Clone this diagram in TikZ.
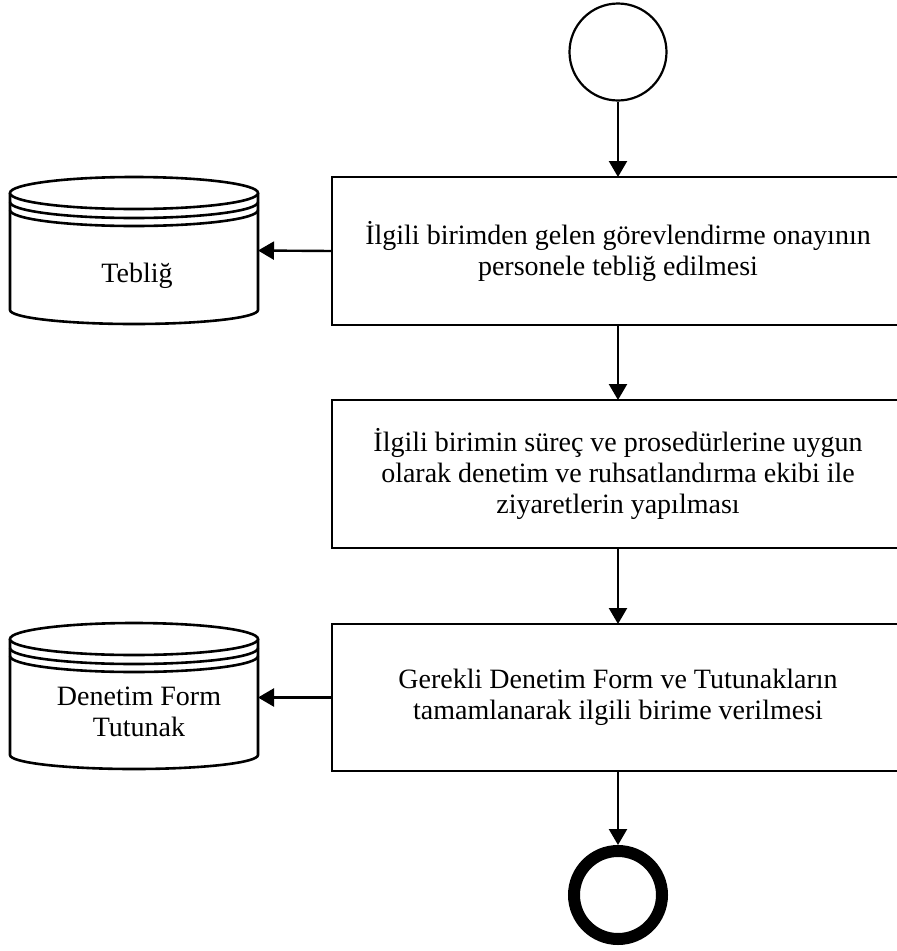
\documentclass[tikz,border=0pt]{standalone}
\usepackage{fontspec}
\setmainfont{Liberation Serif}
\usetikzlibrary{arrows.meta,calc}

\tikzset{
  shapeline/.style={line width=2.6pt, draw=black},
  flowline/.style={line width=2.4pt, draw=black, -{Triangle[length=16pt,width=18pt]}},
  stepbox/.style={shapeline, rectangle, fill=white, inner sep=0pt, outer sep=0pt,
    minimum width=572pt, align=center,
    font=\fontsize{28}{31}\selectfont},
  drum/.style={rectangle, draw=none, inner sep=0pt, outer sep=0pt,
    minimum width=248pt},
  drumtext/.style={align=center, inner sep=0pt, font=\fontsize{28}{31}\selectfont},
}

% stored-data drum drawn over an empty node of the same extent
\newcommand{\dbdrum}[1]{%
  \fill[white] ($(#1.north west)+(0,16)$) -- ($(#1.south west)+(0,-14)$)
    arc[start angle=180,end angle=360,x radius=124pt,y radius=14pt]
    -- ($(#1.north east)+(0,16)$) -- cycle;
  \draw[shapeline] ($(#1.north west)+(0,16)$) -- ($(#1.south west)+(0,-14)$)
    arc[start angle=180,end angle=360,x radius=124pt,y radius=14pt]
    -- ($(#1.north east)+(0,16)$);
  \draw[shapeline, fill=white] ($(#1.north)+(0,16)$) ellipse[x radius=124pt, y radius=16pt];
  \draw[shapeline] ($(#1.north west)+(0,25)$)
    arc[start angle=180,end angle=360,x radius=124pt,y radius=16pt];
  \draw[shapeline] ($(#1.north west)+(0,33)$)
    arc[start angle=180,end angle=360,x radius=124pt,y radius=16pt];
}

\begin{document}
\begin{tikzpicture}[x=1pt, y=-1pt]
  \useasboundingbox (0,0) rectangle (897,951);
  \clip (0,0) rectangle (897,951);
  \fill[white] (0,0) rectangle (897,951);

  % start and end events
  \node (start) [circle, draw=black, line width=2.2pt, fill=white, minimum size=97pt, inner sep=0pt] at (618,52) {};
  \node (finish) [circle, draw=black, line width=12pt, fill=white, minimum size=88pt, inner sep=0pt] at (618,895) {};

  % process steps
  \node (s1) [stepbox, minimum height=148pt] at (618,251)
    {İlgili birimden gelen görevlendirme onayının\\personele tebliğ edilmesi};
  \node (s2) [stepbox, minimum height=148pt] at (618,474)
    {İlgili birimin süreç ve prosedürlerine uygun\\olarak denetim ve ruhsatlandırma ekibi ile\\ziyaretlerin yapılması};
  \node (s3) [stepbox, minimum height=147pt] at (618,697.5)
    {Gerekli Denetim Form ve Tutunakların\\tamamlanarak ilgili birime verilmesi};

  % stored records
  \node (teblig) [drum, minimum height=147pt] at (134,250.5) {};
  \dbdrum{teblig}
  \node (tebligtext) [drumtext] at (137,276) {Tebliğ};

  \node (form) [drum, minimum height=146pt] at (134,696) {};
  \dbdrum{form}
  \node (formtext) [drumtext] at (139,712) {Denetim Form\\Tutunak};

  % flow
  \draw[flowline] (start) -- (s1);
  \draw[flowline] (s1) -- (s2);
  \draw[flowline] (s2) -- (s3);
  \draw[flowline] (s3) -- (finish);
  \draw[flowline] (s1.west) -- (teblig.east);
  \draw[flowline] (s3.west) -- (form.east |- s3.west);
\end{tikzpicture}
\end{document}
